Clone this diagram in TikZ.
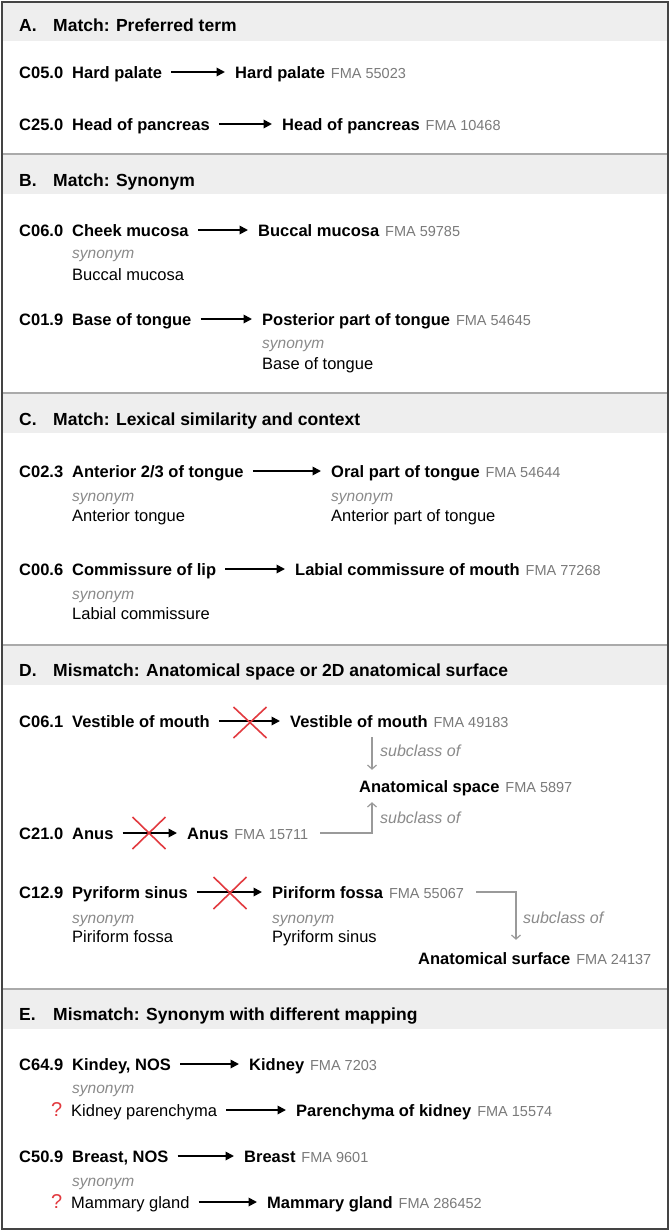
\documentclass[tikz,border=0pt]{standalone}
\usepackage{fontspec}
\setmainfont{Liberation Sans}
\usetikzlibrary{arrows.meta}
\definecolor{framegray}{HTML}{444444}
\definecolor{sepgray}{HTML}{AAAAAA}
\definecolor{bandgray}{HTML}{EEEEEE}
\definecolor{fmagray}{HTML}{7A7A7A}
\definecolor{syngray}{HTML}{8A8A8A}
\definecolor{subgray}{HTML}{9A9A9A}
\definecolor{xred}{HTML}{E23A3F}
\begin{document}
\begin{tikzpicture}[x=1pt,y=-1pt,
 txt/.style={inner sep=0pt, anchor=base west, text height=12pt, text depth=0pt},
 term/.style={txt, font=\fontsize{16.5}{19}\selectfont\bfseries},
 reg/.style={txt, font=\fontsize{16.5}{19}\selectfont},
 fma/.style={txt, font=\fontsize{14.5}{17}\selectfont, text=fmagray},
 syn/.style={txt, font=\fontsize{15.5}{17}\selectfont\itshape, text=syngray},
 sublab/.style={txt, font=\fontsize{16}{18}\selectfont\itshape, text=syngray},
 ttl/.style={txt, font=\fontsize{17.5}{20}\selectfont\bfseries},
 qm/.style={txt, font=\fontsize{20}{22}\selectfont, text=xred},
 arr/.style={-{Triangle[length=8.5pt,width=8.5pt]}, line width=1.8pt, shorten <=9pt, shorten >=10pt},
 sub/.style={-{Straight Barb[length=4pt,width=9pt]}, line width=1.2pt, draw=subgray},
 xmark/.style={draw=xred, line width=1.6pt},
 band/.style={fill=bandgray},
 sep/.style={draw=sepgray, line width=1.3pt}
]
\fill[white] (0,0) rectangle (670,1231);
\useasboundingbox (0,0) rectangle (670,1231);
% bands and separators
\fill[band] (2,2) rectangle (668,41);
\fill[band] (2,155) rectangle (668,194);
\fill[band] (2,394) rectangle (668,433);
\fill[band] (2,646) rectangle (668,685);
\fill[band] (2,990) rectangle (668,1029);
\draw[sep] (2,154) -- (668,154);
\draw[sep] (2,393) -- (668,393);
\draw[sep] (2,645) -- (668,645);
\draw[sep] (2,989) -- (668,989);
\draw[draw=framegray, line width=2pt] (2,2) rectangle (668,1229);

% ---------- A ----------
\node[ttl] (tA) at (19,32) {A.};
\node[ttl] (tAt) at (53,32) {Match: Preferred term};
\node[term] (a1c) at (19,78) {C05.0};
\node[term] (a1s) at (72,78) {Hard palate};
\node[term] (a1t) at (235,78) {Hard palate};
\node[fma] (a1f) at ([xshift=5.5pt]a1t.base east) {FMA 55023};
\draw[arr] (a1s) -- (a1t);
\node[term] (a2c) at (19,130) {C25.0};
\node[term] (a2s) at (72,130) {Head of pancreas};
\node[term] (a2t) at (282,130) {Head of pancreas};
\node[fma] (a2f) at ([xshift=5.5pt]a2t.base east) {FMA 10468};
\draw[arr] (a2s) -- (a2t);

% ---------- B ----------
\node[ttl] (tB) at (19,186) {B.};
\node[ttl] (tBt) at (53,186) {Match: Synonym};
\node[term] (b1c) at (19,236) {C06.0};
\node[term] (b1s) at (72,236) {Cheek mucosa};
\node[term] (b1t) at (258,236) {Buccal mucosa};
\node[fma] (b1f) at ([xshift=5.5pt]b1t.base east) {FMA 59785};
\draw[arr] (b1s) -- (b1t);
\node[syn] (b1y) at (72,258) {synonym};
\node[reg] (b1r) at (72,280) {Buccal mucosa};
\node[term] (b2c) at (19,325) {C01.9};
\node[term] (b2s) at (72,325) {Base of tongue};
\node[term] (b2t) at (262,325) {Posterior part of tongue};
\node[fma] (b2f) at ([xshift=5.5pt]b2t.base east) {FMA 54645};
\draw[arr] (b2s) -- (b2t);
\node[syn] (b2y) at (262,348) {synonym};
\node[reg] (b2r) at (262,369) {Base of tongue};

% ---------- C ----------
\node[ttl] (tC) at (19,425) {C.};
\node[ttl] (tCt) at (53,425) {Match: Lexical similarity and context};
\node[term] (c1c) at (19,477) {C02.3};
\node[term] (c1s) at (72,477) {Anterior 2/3 of tongue};
\node[term] (c1t) at (331,477) {Oral part of tongue};
\node[fma] (c1f) at ([xshift=5.5pt]c1t.base east) {FMA 54644};
\draw[arr] (c1s) -- (c1t);
\node[syn] (c1y) at (72,501) {synonym};
\node[reg] (c1r) at (72,521) {Anterior tongue};
\node[syn] (c1y2) at (331,501) {synonym};
\node[reg] (c1r2) at (331,521) {Anterior part of tongue};
\node[term] (c2c) at (19,575) {C00.6};
\node[term] (c2s) at (72,575) {Commissure of lip};
\node[term] (c2t) at (295,575) {Labial commissure of mouth};
\node[fma] (c2f) at ([xshift=5.5pt]c2t.base east) {FMA 77268};
\draw[arr] (c2s) -- (c2t);
\node[syn] (c2y) at (72,599) {synonym};
\node[reg] (c2r) at (72,619) {Labial commissure};

% ---------- D ----------
\node[ttl] (tD) at (19,676) {D.};
\node[ttl] (tDt) at (53,676) {Mismatch: Anatomical space or 2D anatomical surface};
\node[term] (d1c) at (19,727) {C06.1};
\node[term] (d1s) at (72,727) {Vestible of mouth};
\node[term] (d1t) at (290,727) {Vestible of mouth};
\node[fma] (d1f) at ([xshift=5.5pt]d1t.base east) {FMA 49183};
\draw[arr] (d1s) -- (d1t);
\draw[xmark] (233.5,707) -- (266.5,738) (233.5,738) -- (266.5,707);

\node[term] (das) at (359,792) {Anatomical space};
\node[fma] (dasf) at ([xshift=5.5pt]das.base east) {FMA 5897};
\coordinate (dj) at (372,0);
\draw[sub] ([yshift=-10pt]d1t.south -| dj) -- ([yshift=10pt]das.north -| dj);
\node[sublab] (dl1) at (380,756) {subclass of};

\node[term] (d2c) at (19,839) {C21.0};
\node[term] (d2s) at (72,839) {Anus};
\node[term] (d2t) at (187,839) {Anus};
\node[fma] (d2f) at ([xshift=5.5pt]d2t.base east) {FMA 15711};
\draw[arr] (d2s) -- (d2t);
\draw[xmark] (132.5,817) -- (165.5,849) (132.5,849) -- (165.5,817);
\draw[sub] ([xshift=12pt]d2f.east) -| ([yshift=-10pt]das.south -| dj);
\node[sublab] (dl2) at (380,823) {subclass of};

\node[term] (d3c) at (19,898) {C12.9};
\node[term] (d3s) at (72,898) {Pyriform sinus};
\node[term] (d3t) at (272,898) {Piriform fossa};
\node[fma] (d3f) at ([xshift=5.5pt]d3t.base east) {FMA 55067};
\draw[arr] (d3s) -- (d3t);
\draw[xmark] (213.5,877) -- (246.5,909) (213.5,909) -- (246.5,877);
\node[syn] (d3y) at (72,923) {synonym};
\node[reg] (d3r) at (72,942) {Piriform fossa};
\node[syn] (d3y2) at (272,923) {synonym};
\node[reg] (d3r2) at (272,942) {Pyriform sinus};
\node[term] (dsurf) at (418,964) {Anatomical surface};
\node[fma] (dsurff) at ([xshift=5.5pt]dsurf.base east) {FMA 24137};
\coordinate (dk) at (516,0);
\draw[sub] ([xshift=12pt]d3f.east) -| ([yshift=12pt]dsurf.north -| dk);
\node[sublab] (dl3) at (523,923) {subclass of};

% ---------- E ----------
\node[ttl] (tE) at (19,1020) {E.};
\node[ttl] (tEt) at (53,1020) {Mismatch: Synonym with different mapping};
\node[term] (e1c) at (19,1070) {C64.9};
\node[term] (e1s) at (72,1070) {Kindey, NOS};
\node[term] (e1t) at (249,1070) {Kidney};
\node[fma] (e1f) at ([xshift=5.5pt]e1t.base east) {FMA 7203};
\draw[arr] (e1s) -- (e1t);
\node[syn] (e1y) at (72,1093) {synonym};
\node[qm] (e1q) at (51,1116) {?};
\node[reg] (e1r) at (71,1116) {Kidney parenchyma};
\node[term] (e1u) at (296,1116) {Parenchyma of kidney};
\node[fma] (e1uf) at ([xshift=5.5pt]e1u.base east) {FMA 15574};
\draw[arr] (e1r) -- (e1u);

\node[term] (e2c) at (19,1162) {C50.9};
\node[term] (e2s) at (72,1162) {Breast, NOS};
\node[term] (e2t) at (244,1162) {Breast};
\node[fma] (e2f) at ([xshift=5.5pt]e2t.base east) {FMA 9601};
\draw[arr] (e2s) -- (e2t);
\node[syn] (e2y) at (72,1186) {synonym};
\node[qm] (e2q) at (51,1208) {?};
\node[reg] (e2r) at (71,1208) {Mammary gland};
\node[term] (e2u) at (267,1208) {Mammary gland};
\node[fma] (e2uf) at ([xshift=5.5pt]e2u.base east) {FMA 286452};
\draw[arr] (e2r) -- (e2u);
\end{tikzpicture}
\end{document}
